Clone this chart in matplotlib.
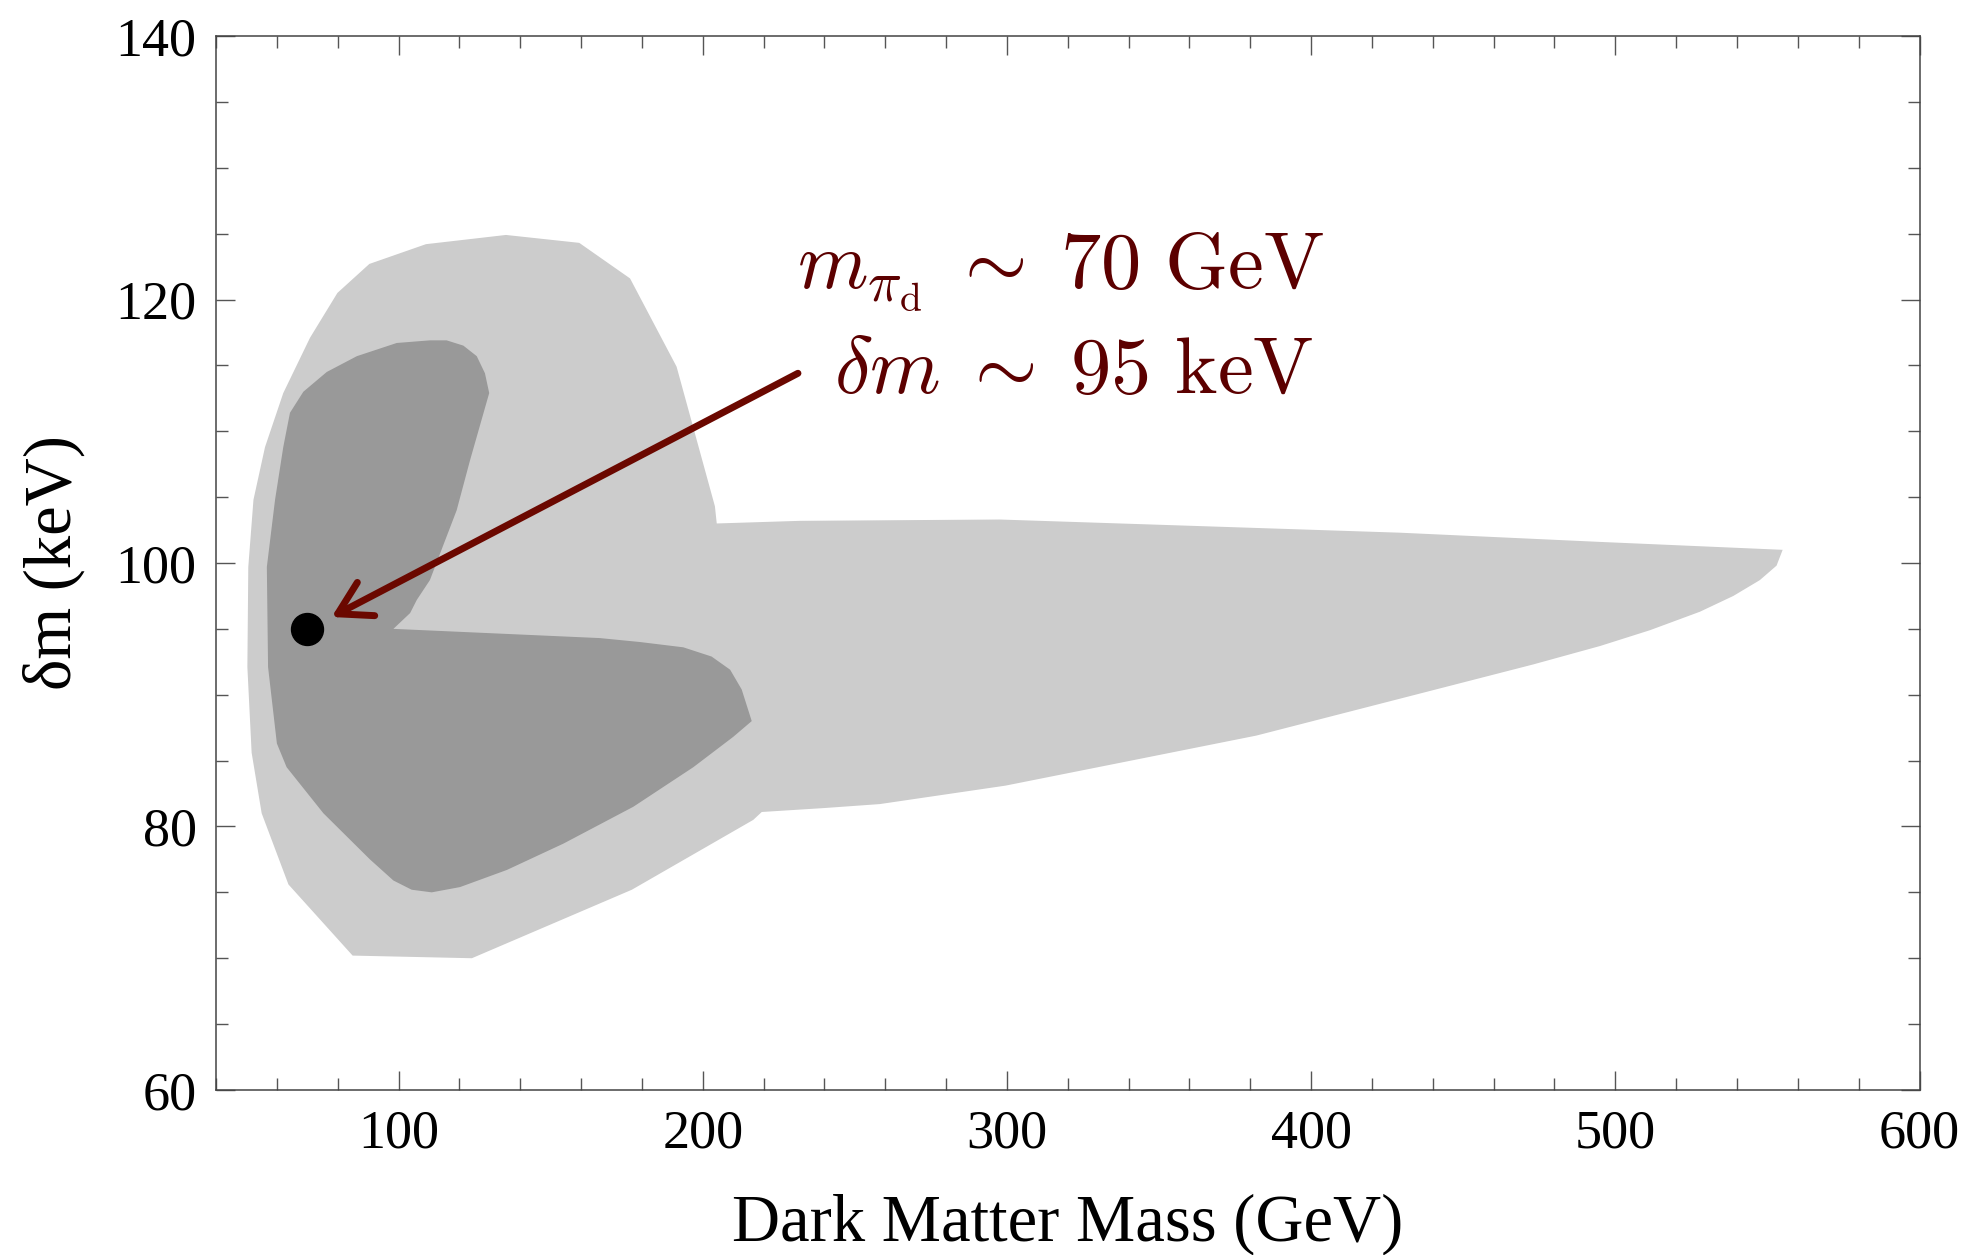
import matplotlib
matplotlib.use("Agg")
import matplotlib.pyplot as plt
from matplotlib.ticker import MultipleLocator

plt.rcParams["font.family"] = ["Liberation Serif", "DejaVu Serif"]
plt.rcParams["mathtext.fontset"] = "cm"

# outer (light) allowed region: (mass GeV, delta m keV)
outer_mass = [50.6, 52.3, 56.1, 62.1, 70.9, 79.9, 90.4, 109.0, 135.3, 159.4,
              176.1, 191.4, 204.0, 204.6, 232.0, 297.7, 363.5, 429.2, 495.0,
              555.0, 553.0, 547.5, 538.8, 527.8, 511.4, 495.0, 473.0, 451.1,
              429.2, 382.0, 340.8, 299.5, 258.2, 240.0, 219.4, 216.6, 176.7,
              124.1, 84.9, 63.8, 55.0, 51.7, 50.3]
outer_dm = [99.7, 104.8, 108.8, 112.9, 117.1, 120.5, 122.7, 124.2, 124.9, 124.3,
            121.6, 114.9, 104.3, 103.0, 103.2, 103.3, 102.8, 102.3, 101.6,
            101.0, 99.8, 98.7, 97.5, 96.3, 94.9, 93.7, 92.3, 91.0,
            89.7, 86.9, 85.0, 83.1, 81.7, 81.4, 81.1, 80.5, 75.2,
            70.0, 70.2, 75.6, 81.0, 85.6, 92.1]

# inner (dark) region
inner_mass = [56.7, 59.4, 62.1, 64.3, 68.7, 76.4, 86.3, 99.4, 110.3, 115.8,
              121.3, 125.7, 128.4, 129.8, 123.5, 119.1, 110.3, 106.0, 103.8,
              98.3, 166.2, 179.4, 193.6, 202.9, 209.0, 212.8, 216.1, 210.0,
              196.9, 177.2, 154.2, 135.6, 120.2, 110.9, 104.3, 98.3, 90.6,
              75.3, 63.2, 60.0, 57.1]
inner_dm = [99.7, 104.8, 108.8, 111.4, 113.0, 114.5, 115.7, 116.7, 116.9, 116.9,
            116.5, 115.7, 114.4, 112.9, 107.8, 104.0, 98.7, 97.2, 96.2,
            95.0, 94.3, 94.0, 93.6, 92.9, 91.9, 90.4, 88.0, 86.8,
            84.5, 81.5, 78.7, 76.7, 75.4, 75.0, 75.2, 75.9, 77.5,
            81.0, 84.5, 86.3, 92.1]

best_mass = 70
best_dm = 95
label_lines = [r"$m_{\pi_{\rm d}}\;\sim\;70\ \rm GeV$",
               r"$\delta m\;\sim\;95\ \rm keV$"]

fig = plt.figure(figsize=(19.73, 12.55), dpi=100)
ax = fig.add_axes([0.1095, 0.1315, 0.8634, 0.8398])

ax.fill(outer_mass, outer_dm, color="#cccccc", lw=0, zorder=1)
ax.fill(inner_mass, inner_dm, color="#999999", lw=0, zorder=2)
ax.plot([best_mass], [best_dm], "o", color="black", ms=23, zorder=5)

ax.annotate("", xy=(78.0, 95.9), xytext=(231.3, 114.4),
            arrowprops=dict(arrowstyle="->,head_length=2.3,head_width=1.35",
                            mutation_scale=10, color="#6b0800", lw=5,
                            shrinkA=0, shrinkB=0),
            zorder=4)

txt_color = "#5c0000"
ax.text(317.6, 120.9, label_lines[0], ha="center", va="baseline",
        fontsize=58, color=txt_color, zorder=6)
ax.text(322.0, 112.9, label_lines[1], ha="center", va="baseline",
        fontsize=58, color=txt_color, zorder=6)

ax.set_xlim(40, 600)
ax.set_ylim(60, 140)
ax.xaxis.set_major_locator(MultipleLocator(100))
ax.xaxis.set_minor_locator(MultipleLocator(20))
ax.yaxis.set_major_locator(MultipleLocator(20))
ax.yaxis.set_minor_locator(MultipleLocator(5))

ax.tick_params(which="both", direction="in", top=True, right=True,
               color="#555555", width=1.0, labelsize=39)
ax.tick_params(which="major", length=13.5, pad=14)
ax.tick_params(which="minor", length=8.5)
for sp in ax.spines.values():
    sp.set_color("#444444")
    sp.set_linewidth(1.1)

ax.set_xlabel("Dark Matter Mass (GeV)", fontsize=48, labelpad=24)
ax.set_ylabel("δm (keV)", fontsize=48, labelpad=22)

fig.savefig("out.png", dpi=100)
